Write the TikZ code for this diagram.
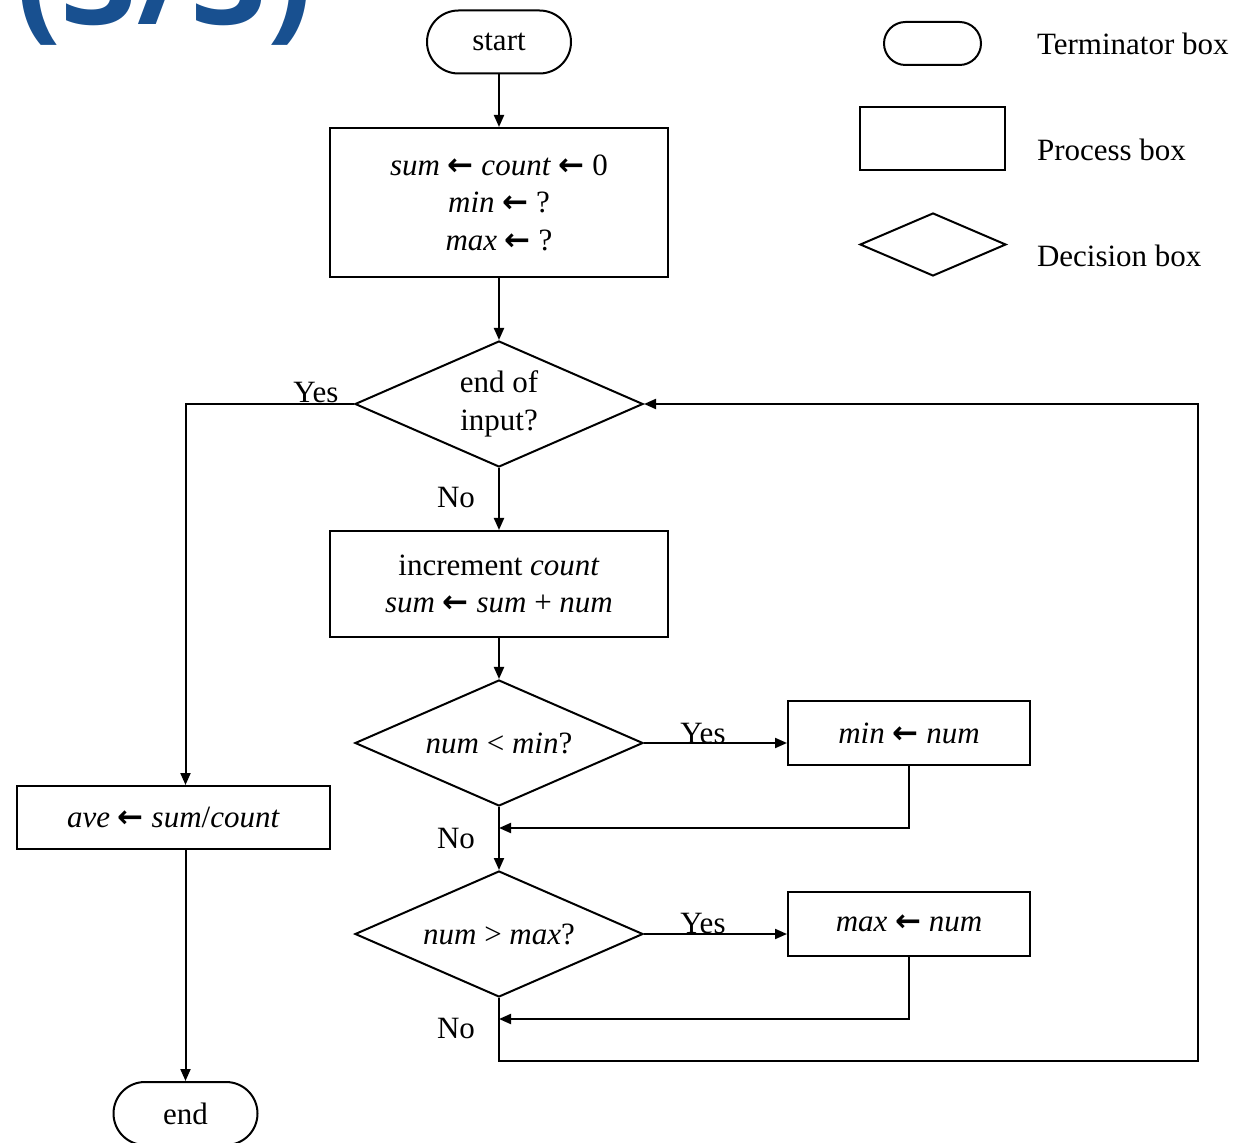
\documentclass[tikz,border=0pt]{standalone}
\usepackage{fontspec}
\setmainfont{Liberation Serif}
\newfontfamily\titlefont{Open Sans}
\newfontfamily\arrowfont{DejaVu Sans}
\usetikzlibrary{shapes.geometric,arrows.meta}

\definecolor{titleblue}{RGB}{24,80,144}
\newcommand{\getsarrow}{{\arrowfont\bfseries ←}}

\begin{document}
\begin{tikzpicture}[
        % 全局設定:以像素為單位
        x=0.5pt, y=-0.5pt,
        font=\fontsize{15.5}{18.75}\selectfont,
        line width=1pt,
        % 終止框樣式
        term/.style={
            rectangle,
            rounded corners=15.75pt,
            draw=black,
            minimum width=72pt,
            minimum height=31.5pt,
            inner sep=0pt
        },
        % 處理框樣式
        proc/.style={
            rectangle,
            draw=black,
            align=center,
            inner sep=0pt
        },
        % 判斷框樣式
        decide/.style={
            diamond,
            aspect=2.3,
            draw=black,
            align=center,
            inner sep=0pt,
            minimum width=144pt,
            minimum height=63pt
        },
        % 連線樣式
        flow/.style={
            -{Triangle[length=6pt,width=5pt]}
        },
        % 文字標籤樣式
        label_text/.style={
            inner sep=0pt
        }
    ]

    \clip (0,0) rectangle (1241,1143);

    % --- 標題 ---
    \node[label_text, anchor=base west, text=titleblue,
          font=\titlefont\bfseries\fontsize{66}{66}\selectfont] (title) at (16,25) {(3/3)};

    % --- 流程圖節點 ---
    \node[term] (start) at (499,42) {start};
    \node[proc, minimum width=169pt, minimum height=74.5pt] (init) at (499,202.5)
        {\textit{sum} \getsarrow{} \textit{count} \getsarrow{} 0\\ \textit{min} \getsarrow{} ?\\ \textit{max} \getsarrow{} ?};
    \node[decide] (eoi) at (499,404) {end of\\ input?};
    \node[proc, minimum width=169pt, minimum height=53pt] (incr) at (499,584)
        {increment \textit{count}\\ \textit{sum} \getsarrow{} \textit{sum} + \textit{num}};
    \node[decide] (chkmin) at (499,743) {\textit{num} < \textit{min}?};
    \node[proc, minimum width=121pt, minimum height=32pt] (setmin) at (909,733)
        {\textit{min} \getsarrow{} \textit{num}};
    \node[decide] (chkmax) at (499,934) {\textit{num} > \textit{max}?};
    \node[proc, minimum width=121pt, minimum height=32pt] (setmax) at (909,923.5)
        {\textit{max} \getsarrow{} \textit{num}};
    \node[proc, minimum width=156.5pt, minimum height=31.5pt] (ave) at (173.5,817.5)
        {\textit{ave} \getsarrow{} \textit{sum}/\textit{count}};
    \node[term] (end) at (185.5,1113.5) {end};

    % --- 連線 ---
    \coordinate (minjoin) at (499,828);
    \coordinate (maxjoin) at (499,1019);
    \coordinate (loopbot) at (499,1061);
    \coordinate (loopright) at (1198,1061);

    \draw[flow] (start) -- (init);
    \draw[flow] (init) -- (eoi);
    \draw[flow] (eoi.west) -| (end.north |- ave.north);
    \draw[flow] (eoi) -- (incr);
    \draw[flow] (incr) -- (chkmin);
    \draw[flow] (chkmin.east) -- (setmin.west |- chkmin.east);
    \draw[flow] (setmin.south) |- (minjoin);
    \draw[flow] (chkmin) -- (chkmax);
    \draw[flow] (chkmax.east) -- (setmax.west |- chkmax.east);
    \draw[flow] (setmax.south) |- (maxjoin);
    \draw[flow] (chkmax.south) -- (loopbot) -- (loopright) |- (eoi.east);
    \draw[flow] (end.north |- ave.south) -- (end.north);

    % --- Yes / No 標籤 ---
    \node[label_text] (yes1) at (316,393) {Yes};
    \node[label_text] (no1) at (456,498) {No};
    \node[label_text] (yes2) at (703,733) {Yes};
    \node[label_text] (no2) at (456,838) {No};
    \node[label_text] (yes3) at (703,923) {Yes};
    \node[label_text] (no3) at (456,1028) {No};

    % --- 圖例 ---
    \node[term, minimum width=48.5pt, minimum height=21.5pt, rounded corners=10.75pt] (legterm) at (932.5,43.5) {};
    \node[proc, minimum width=72.5pt, minimum height=31.5pt] (legproc) at (932.5,138.5) {};
    \node[decide, minimum width=73pt, minimum height=31.5pt] (legdec) at (933,244.5) {};
    \node[label_text, anchor=west] (legtermtext) at (1036,44) {Terminator box};
    \node[label_text, anchor=west] (legproctext) at (1036,150) {Process box};
    \node[label_text, anchor=west] (legdectext) at (1036,256) {Decision box};

\end{tikzpicture}
\end{document}
